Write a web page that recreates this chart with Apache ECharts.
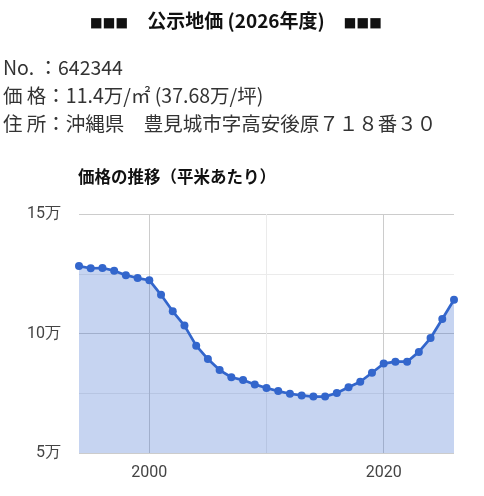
<!DOCTYPE html>
<html><head><meta charset="utf-8">
<script src="https://cdn.jsdelivr.net/npm/echarts@6/dist/echarts.min.js"></script>
<style>
html,body{margin:0;padding:0;background:#fff;}
#wrap{position:relative;width:484px;height:496px;overflow:hidden;font-family:"Noto Sans CJK JP","Noto Sans",sans-serif;}
#chart{position:absolute;left:0;top:0;width:484px;height:496px;}
.ttl{position:absolute;left:-6px;top:6px;width:484px;text-align:center;font-weight:bold;font-size:19px;color:#111;line-height:28px;white-space:pre;}
.sq{font-family:"DejaVu Sans",sans-serif;font-size:13.5px;vertical-align:1px;}
.ln{position:absolute;left:3px;font-size:19.5px;color:#333;line-height:28px;white-space:pre;}
</style></head>
<body><div id="wrap">
<div id="chart"></div>
<div class="ttl"><span class="sq">■■■</span>　公示地価 (2026年度)　<span class="sq">■■■</span></div>
<div class="ln" style="top:53px">No. ：642344</div>
<div class="ln" style="top:81px">価 格：11.4万/㎡ (37.68万/坪)</div>
<div class="ln" style="top:109px">住 所：沖縄県　豊見城市字高安後原７１８番３０</div>
</div>
<script>
const years = [1994,1995,1996,1997,1998,1999,2000,2001,2002,2003,2004,2005,2006,2007,2008,2009,2010,2011,2012,2013,2014,2015,2016,2017,2018,2019,2020,2021,2022,2023,2024,2025,2026];
const prices = [128200,127300,127400,126300,124400,123200,122300,116200,109300,103300,94900,89300,84700,81700,80500,78700,77200,75900,74800,74100,73600,73600,75100,77500,79800,83600,87400,88200,88200,92300,98100,106100,114100];
const yTicks = {50000:'5万',100000:'10万',150000:'15万'};
const xLabels = [2000, 2020];
const xMajorGrid = [2000, 2020];
const xMinorGrid = [2010];
const chartTitle = '価格の推移（平米あたり）';

const chart = echarts.init(document.getElementById('chart'));
chart.setOption({
  animation:false,
  title:{text:chartTitle,left:73,top:163,textStyle:{fontSize:16.5,fontWeight:'bold',color:'#111',fontFamily:'"Noto Sans CJK JP",sans-serif'}},
  grid:{left:79,right:30,top:214,bottom:43},
  xAxis:{type:'value',min:1994,max:2026,splitNumber:3,
    axisLine:{show:false},axisTick:{show:false},
    axisLabel:{color:'#444',fontSize:16,margin:12,fontFamily:'Roboto,sans-serif',showMinLabel:false,showMaxLabel:false,
      formatter:v=>xLabels.includes(v)?String(v):''},
    splitLine:{show:false}
  },
  yAxis:{type:'value',min:50000,max:150000,interval:50000,
    axisLine:{show:false},axisTick:{show:false},
    axisLabel:{color:'#444',fontSize:16,margin:18,fontFamily:'Roboto,sans-serif',formatter:v=>yTicks[v]||''},
    splitLine:{show:true,lineStyle:{color:'#ccc',width:1}},
    minorTick:{show:false,splitNumber:2},
    minorSplitLine:{show:true,lineStyle:{color:'#ebebeb',width:1}}
  },
  series:[
  {type:'line',data:[],z:0,silent:true,
    markLine:{silent:true,symbol:'none',label:{show:false},animation:false,z:0,
      data:[
        ...xMajorGrid.map(v=>({xAxis:v,lineStyle:{color:'#ccc',width:1,type:'solid'}})),
        ...xMinorGrid.map(v=>({xAxis:v,lineStyle:{color:'#ebebeb',width:1,type:'solid'}}))
      ]}
  },
  {type:'line',data:years.map((y,i)=>[y,prices[i]]),z:3,
    symbol:'circle',symbolSize:8,showAllSymbol:true,
    lineStyle:{color:'#3366cc',width:2.7},
    itemStyle:{color:'#3366cc'},
    areaStyle:{color:'#3366cc',opacity:0.28,origin:'start'}
  }]
});
</script>
</body></html>
